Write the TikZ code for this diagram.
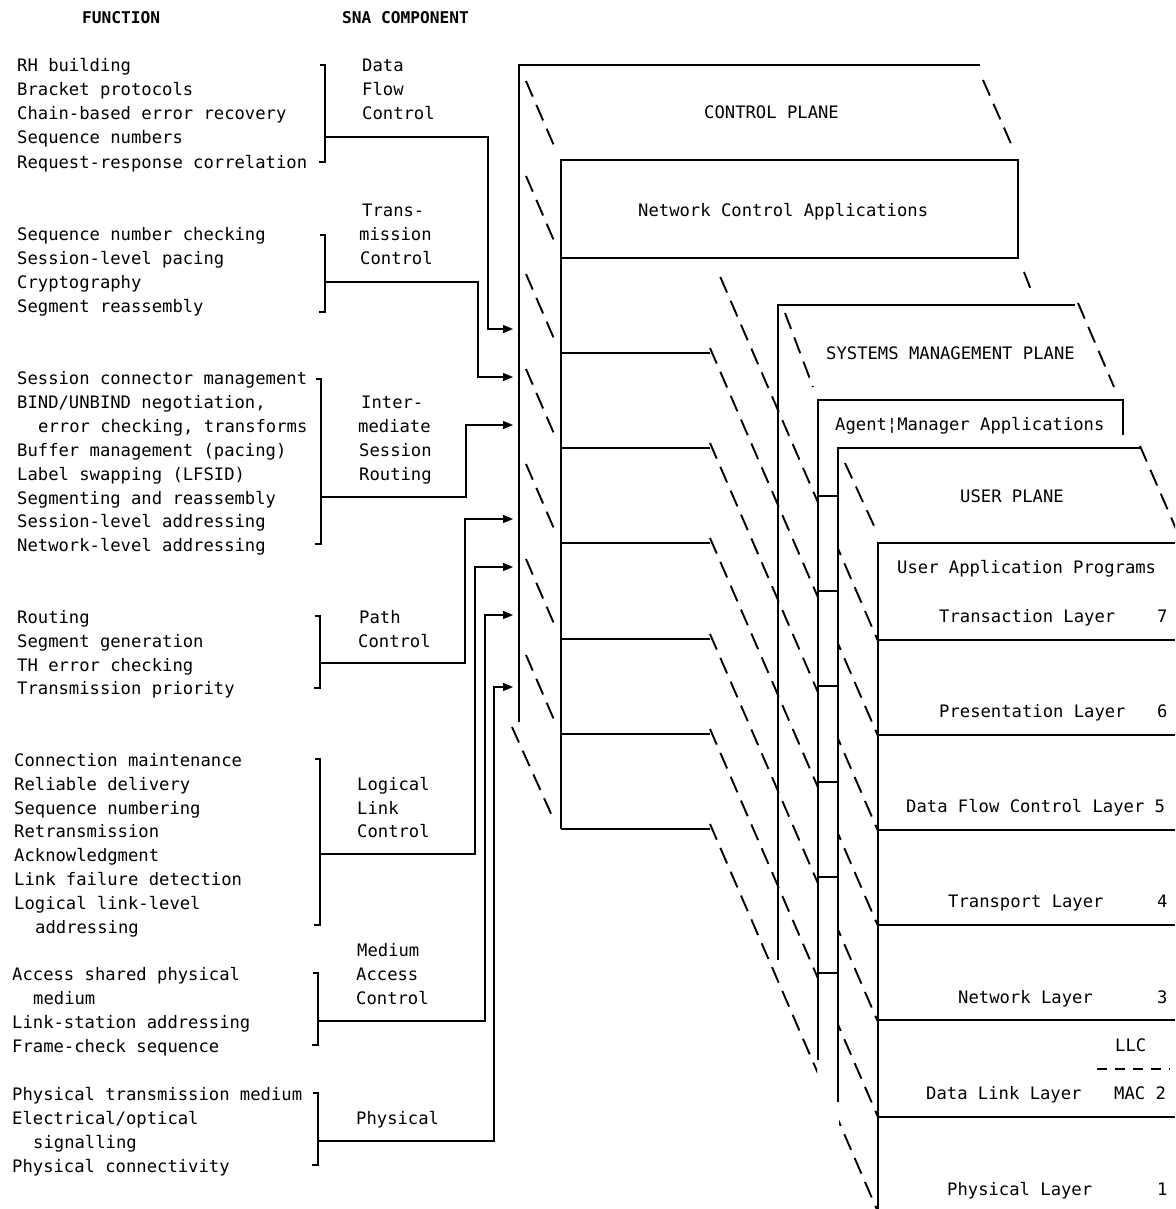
\documentclass[tikz,border=0pt]{standalone}
\usepackage{fontspec}
\newfontfamily\tw{DejaVu Sans Mono}
\usetikzlibrary{arrows.meta}
\tikzset{
  tx/.style={font=\tw\fontsize{17.2}{24}\selectfont, anchor=base west, inner sep=0pt},
  hd/.style={font=\tw\bfseries\fontsize{16.2}{24}\selectfont, anchor=base west, inner sep=0pt},
  wire/.style={line width=1.3pt, line cap=butt},
  bsl/.style={line width=1.9pt, dash pattern=on 17pt off 9pt},
  arr/.style={wire, -{Triangle[length=10pt,width=8pt]}},
}
\begin{document}
\begin{tikzpicture}[x=1pt,y=-1pt]
\useasboundingbox (0,0) rectangle (1175,1209);
\clip (0,0) rectangle (1175,1209);

% ---------- headers ----------
\node[hd] (hF) at (82,24) {FUNCTION};
\node[hd] (hS) at (342,24) {SNA COMPONENT};

% ---------- function texts ----------
\node[tx] (f11) at (17,72) {RH building};
\node[tx] (f12) at (17,96) {Bracket protocols};
\node[tx] (f13) at (17,120) {Chain-based error recovery};
\node[tx] (f14) at (17,144) {Sequence numbers};
\node[tx] (f15) at (17,168) {Request-response correlation};

\node[tx] (f21) at (17,240) {Sequence number checking};
\node[tx] (f22) at (17,264) {Session-level pacing};
\node[tx] (f23) at (17,288) {Cryptography};
\node[tx] (f24) at (17,312) {Segment reassembly};

\node[tx] (f31) at (17,384) {Session connector management};
\node[tx] (f32) at (17,408) {BIND/UNBIND negotiation,};
\node[tx] (f33) at (38,432) {error checking, transforms};
\node[tx] (f34) at (17,456) {Buffer management (pacing)};
\node[tx] (f35) at (17,480) {Label swapping (LFSID)};
\node[tx] (f36) at (17,504) {Segmenting and reassembly};
\node[tx] (f37) at (17,527) {Session-level addressing};
\node[tx] (f38) at (17,551) {Network-level addressing};

\node[tx] (f41) at (17,623) {Routing};
\node[tx] (f42) at (17,647) {Segment generation};
\node[tx] (f43) at (17,671) {TH error checking};
\node[tx] (f44) at (17,694) {Transmission priority};

\node[tx] (f51) at (14,766) {Connection maintenance};
\node[tx] (f52) at (14,790) {Reliable delivery};
\node[tx] (f53) at (14,814) {Sequence numbering};
\node[tx] (f54) at (14,837) {Retransmission};
\node[tx] (f55) at (14,861) {Acknowledgment};
\node[tx] (f56) at (14,885) {Link failure detection};
\node[tx] (f57) at (14,909) {Logical link-level};
\node[tx] (f58) at (35,933) {addressing};

\node[tx] (f61) at (12,980) {Access shared physical};
\node[tx] (f62) at (33,1004) {medium};
\node[tx] (f63) at (12,1028) {Link-station addressing};
\node[tx] (f64) at (12,1052) {Frame-check sequence};

\node[tx] (f71) at (12,1100) {Physical transmission medium};
\node[tx] (f72) at (12,1124) {Electrical/optical};
\node[tx] (f73) at (33,1148) {signalling};
\node[tx] (f74) at (12,1172) {Physical connectivity};

% ---------- SNA components ----------
\node[tx] (c11) at (362,72) {Data};
\node[tx] (c12) at (362,96) {Flow};
\node[tx] (c13) at (362,120) {Control};
\node[tx] (c21) at (362,216) {Trans-};
\node[tx] (c22) at (359,240) {mission};
\node[tx] (c23) at (360,264) {Control};
\node[tx] (c31) at (361,408) {Inter-};
\node[tx] (c32) at (358,432) {mediate};
\node[tx] (c33) at (359,456) {Session};
\node[tx] (c34) at (359,480) {Routing};
\node[tx] (c41) at (359,623) {Path};
\node[tx] (c42) at (358,647) {Control};
\node[tx] (c51) at (357,790) {Logical};
\node[tx] (c52) at (357,814) {Link};
\node[tx] (c53) at (357,837) {Control};
\node[tx] (c61) at (357,956) {Medium};
\node[tx] (c62) at (356,980) {Access};
\node[tx] (c63) at (356,1004) {Control};
\node[tx] (c71) at (356,1124) {Physical};

% ---------- brackets ----------
\draw[wire] (320,65) -- (325,65) -- (325,162) -- (319,162);
\draw[wire] (320,235) -- (325,235) -- (325,312) -- (319,312);
\draw[wire] (316,379) -- (321,379) -- (321,544) -- (315,544);
\draw[wire] (315,616) -- (320,616) -- (320,688) -- (314,688);
\draw[wire] (315,759) -- (320,759) -- (320,925) -- (314,925);
\draw[wire] (313,973) -- (318,973) -- (318,1045) -- (312,1045);
\draw[wire] (313,1093) -- (318,1093) -- (318,1165) -- (312,1165);

% ---------- connector ends ----------
\coordinate (b1) at (325,137);  \coordinate (v1) at (488,329); \coordinate (t1) at (513,329);
\coordinate (b2) at (325,282);  \coordinate (v2) at (478,377); \coordinate (t2) at (513,377);
\coordinate (b3) at (321,497);  \coordinate (v3) at (466,425); \coordinate (t3) at (513,425);
\coordinate (b4) at (320,663);  \coordinate (v4) at (465,519); \coordinate (t4) at (513,519);
\coordinate (b5) at (320,854);  \coordinate (v5) at (475,567); \coordinate (t5) at (513,567);
\coordinate (b6) at (318,1021); \coordinate (v6) at (485,615); \coordinate (t6) at (513,615);
\coordinate (b7) at (318,1141); \coordinate (v7) at (494,687); \coordinate (t7) at (513,687);
\foreach \i in {1,...,7} \draw[arr] (b\i) -| (v\i) -- (t\i);

% ---------- CONTROL PLANE ----------
\draw[wire] (519,722) -- (519,65) -- (980,65);
\draw[wire] (561,160) rectangle (1018,258);
\draw[wire] (561,258) -- (561,829);
\foreach \y in {353,448,543,639,734,829} \draw[wire] (561,\y) -- (710,\y);
\foreach \y in {65,160,258,353,448,543,639} \draw[bsl] (526,\y+16) -- (555,\y+83);
\draw[bsl] (512,727) -- (553,818);
\draw[bsl] (983,80) -- (1012,146);
\draw[bsl] (1024,272) -- (1031,290);
\node[tx] (p1) at (704,119) {CONTROL PLANE};
\node[tx] (p2) at (638,216) {Network Control Applications};

% ---------- long depth chains ----------
\begin{scope}
  \clip (0,0) rectangle (817,1209) (839,0) rectangle (1175,1209);
  \draw[bsl] (720.3,277) -- (878,641);
  \foreach \y in {353,448,543,639,734,829}
    \draw[bsl] (710,\y-5) -- (878,\y+383);
\end{scope}

% ---------- SYSTEMS MANAGEMENT PLANE ----------
\draw[wire] (778,960) -- (778,305) -- (1075,305);
\draw[wire] (818,1060) -- (818,400) -- (1123,400) -- (1123,435);
\foreach \y in {496,591,686,782,877,973} \draw[wire] (818,\y) -- (838,\y);
\draw[bsl] (785,313) -- (813,387);
\draw[bsl] (1078,303) -- (1114,387);
\node[tx] (p3) at (826,359) {SYSTEMS MANAGEMENT PLANE};
\node[tx] (p4) at (835,430) {Agent¦Manager Applications};

% ---------- USER PLANE ----------
\draw[wire] (838,1102) -- (838,448) -- (1140,448);
\draw[wire] (878,1209) -- (878,543) -- (1175,543);
\foreach \y in {640,735,830,925,1020,1117} \draw[wire] (878,\y) -- (1175,\y);
\draw[bsl] (845,463) -- (875,528);
\draw[bsl] (1140,446) -- (1190,561);
\draw[wire, dash pattern=on 10pt off 8pt] (1097,1069) -- (1170,1069);
\node[tx] (p5) at (960,502) {USER PLANE};
\node[tx] (u0) at (897,573) {User Application Programs};
\node[tx] (u7) at (939,622) {Transaction Layer};
\node[tx] (n7) at (1157,622) {7};
\node[tx] (u6) at (939,717) {Presentation Layer};
\node[tx] (n6) at (1157,717) {6};
\node[tx] (u5) at (906,812) {Data Flow Control Layer 5};
\node[tx] (u4) at (948,907) {Transport Layer};
\node[tx] (n4) at (1157,907) {4};
\node[tx] (u3) at (958,1003) {Network Layer};
\node[tx] (n3) at (1157,1003) {3};
\node[tx] (llc) at (1115,1051) {LLC};
\node[tx] (u2) at (926,1099) {Data Link Layer};
\node[tx] (mac) at (1114,1099) {MAC 2};
\node[tx] (u1) at (947,1195) {Physical Layer};
\node[tx] (n1) at (1157,1195) {1};
\end{tikzpicture}
\end{document}
